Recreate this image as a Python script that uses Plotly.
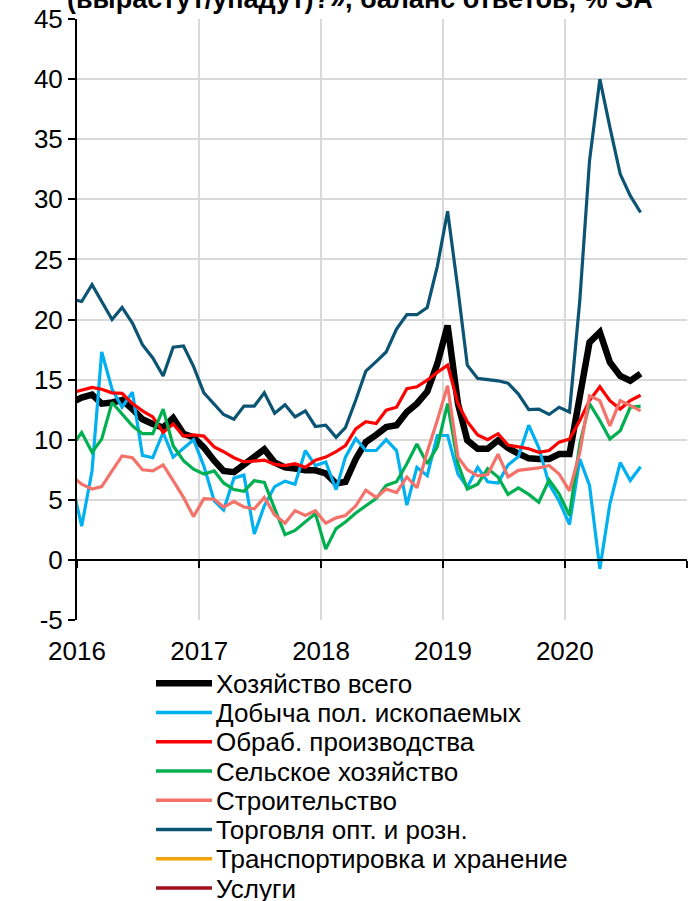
import pandas as pd
import plotly.graph_objects as go

# ---------------- data (monthly, mid-month, Dec-2015 .. Aug-2020) ----------------
months = pd.date_range("2015-12-01", periods=57, freq="MS") + pd.Timedelta(days=14)

total = [13.1,
         13.5, 13.75, 13.0, 13.1, 13.3, 12.55, 11.7, 11.3, 11.0, 11.8, 10.5, 10.2,
         9.35, 8.25, 7.4, 7.3, 7.95, 8.5, 9.2, 8.1, 7.7, 7.6, 7.45, 7.45,
         7.2, 6.35, 6.5, 8.4, 9.8, 10.4, 11.05, 11.2, 12.3, 13.0, 14.0, 16.3,
         19.5, 13.0, 9.95, 9.25, 9.25, 9.95, 9.3, 8.85, 8.45, 8.4, 8.4, 8.8,
         8.8, 13.6, 18.1, 18.95, 16.45, 15.3, 14.9, 15.5]

mining = [6.6,
          2.8, 7.4, 17.3, 14.2, 12.7, 13.95, 8.7, 8.5, 10.6, 8.55, 9.3, 10.0,
          7.8, 4.9, 4.15, 6.8, 7.05, 2.15, 4.5, 6.1, 6.55, 6.3, 9.1, 7.85,
          8.15, 5.85, 8.55, 10.1, 9.1, 9.1, 10.0, 9.1, 4.55, 7.7, 7.0, 10.35,
          10.35, 7.15, 6.05, 7.7, 6.5, 6.4, 7.9, 8.6, 11.2, 9.35, 6.3, 4.9,
          2.95, 8.4, 6.2, -0.75, 4.65, 8.1, 6.6, 7.75]

manufacturing = [13.9,
                 14.1, 14.35, 14.2, 13.9, 13.85, 13.0, 12.4, 11.9, 10.6, 11.3, 10.3, 10.4,
                 10.3, 9.4, 9.0, 8.5, 8.15, 8.2, 8.3, 7.95, 7.85, 8.0, 7.7, 8.3,
                 8.55, 9.0, 9.5, 10.9, 11.5, 11.35, 12.45, 12.7, 14.25, 14.4, 14.95, 15.6,
                 16.2, 13.0, 11.5, 10.4, 10.0, 10.5, 9.55, 9.4, 9.25, 8.95, 9.1, 9.8,
                 10.05, 11.6, 13.25, 14.4, 13.25, 12.55, 13.25, 13.7]

agriculture = [9.4,
               10.6, 8.95, 10.05, 13.1, 12.1, 11.15, 10.5, 10.5, 12.55, 9.5, 8.25, 7.55,
               7.15, 7.4, 6.4, 5.85, 5.7, 6.6, 6.45, 4.25, 2.1, 2.45, 3.2, 3.85,
               0.9, 2.6, 3.15, 3.9, 4.5, 5.1, 6.2, 6.5, 8.0, 9.65, 8.0, 9.4,
               13.0, 8.0, 5.9, 6.3, 7.6, 6.9, 5.45, 6.0, 5.45, 4.8, 6.65, 5.5,
               3.7, 9.65, 13.0, 11.6, 10.05, 10.75, 12.7, 12.8]

construction = [7.0,
                6.3, 5.9, 6.1, 7.4, 8.65, 8.5, 7.5, 7.4, 7.9, 6.6, 5.2, 3.6,
                5.1, 5.05, 4.4, 4.85, 4.4, 4.25, 5.2, 3.75, 3.05, 4.1, 3.7, 4.1,
                3.05, 3.5, 3.7, 4.5, 5.8, 5.2, 5.9, 5.6, 6.9, 6.0, 9.0, 11.6,
                14.5, 8.55, 7.5, 7.0, 7.1, 8.8, 6.9, 7.45, 7.55, 7.65, 7.85, 7.15,
                5.75, 8.95, 13.65, 13.25, 11.15, 13.25, 12.85, 12.4]

trade = [21.7,
         21.5, 22.9, 21.5, 20.0, 21.0, 19.7, 17.9, 16.8, 15.3, 17.7, 17.8, 16.1,
         13.9, 13.0, 12.1, 11.7, 12.8, 12.8, 13.9, 12.2, 12.9, 11.9, 12.4, 11.1,
         11.2, 10.2, 11.0, 13.3, 15.7, 16.5, 17.3, 19.2, 20.4, 20.4, 21.0, 24.4,
         29.0, 22.5, 16.2, 15.1, 15.0, 14.9, 14.7, 13.8, 12.5, 12.55, 12.1, 12.7,
         12.3, 21.6, 33.2, 40.0, 36.0, 32.1, 30.3, 28.9]

transport = [None] * len(months)   # no values inside the visible range
services = [None] * len(months)    # no values inside the visible range

series_names = ["Хозяйство всего", "Добыча пол. ископаемых", "Обраб. производства",
                "Сельское хозяйство", "Строительство", "Торговля опт. и розн.",
                "Транспортировка и хранение", "Услуги"]
series_values = [total, mining, manufacturing, agriculture, construction, trade,
                 transport, services]
series_colors = ["#000000", "#00B0F0", "#FF0000", "#00B050", "#F4726A", "#0C5474",
                 "#F0A30A", "#A0101E"]
series_widths = [6.5, 3.2, 3.2, 3.2, 3.2, 3.2, 3.2, 3.2]

year_ticks = ["2016-01-01", "2017-01-01", "2018-01-01", "2019-01-01", "2020-01-01", "2021-01-01"]
year_labels = ["2016", "2017", "2018", "2019", "2020", ""]

y_ticks = [-5, 0, 5, 10, 15, 20, 25, 30, 35, 40, 45]
y_labels = ["-5", "0", "5", "10", "15", "20", "25", "30", "35", "40", "45"]

title_text = "(вырастут/упадут)?», баланс ответов, % SA"

# ---------------- figure ----------------
W, H = 694, 901
PL, PR, PT, PB = 77, 687, 19, 620


def px_x(x):
    return (x - PL) / (PR - PL)


def px_y(y):
    return (PB - y) / (PB - PT)


FONT = "Arial, Liberation Sans, sans-serif"
FS = 26

fig = go.Figure()
for i, (name, vals, col, w) in enumerate(zip(series_names, series_values, series_colors, series_widths)):
    fig.add_trace(go.Scatter(
        x=months, y=vals, mode="lines", name=name,
        line=dict(color=col, width=w),
        showlegend=False, hoverinfo="skip",
        xaxis="x2" if i == len(series_names) - 1 else "x",
    ))

xrange_ = ["2016-01-01", "2021-01-01"]

fig.update_layout(
    width=W, height=H,
    margin=dict(l=PL, r=W - PR, t=PT, b=H - PB, pad=0),
    paper_bgcolor="white", plot_bgcolor="white",
    font=dict(family=FONT, size=FS, color="black"),
    xaxis=dict(
        range=xrange_, tickmode="array", tickvals=year_ticks, ticktext=year_labels,
        showgrid=True, gridcolor="#D9D9D9", gridwidth=2,
        showline=False, zeroline=False, ticks="",
        tickfont=dict(family=FONT, size=FS, color="black"),
        ticklabelstandoff=13, automargin=False,
    ),
    xaxis2=dict(
        range=xrange_, overlaying="x", anchor="free", position=0.1,
        tickmode="array", tickvals=year_ticks, showticklabels=False,
        showgrid=False, zeroline=False,
        showline=True, linecolor="black", linewidth=2,
        ticks="outside", ticklen=7, tickwidth=2, tickcolor="black",
        automargin=False,
    ),
    yaxis=dict(
        range=[-5, 45], tickmode="array", tickvals=y_ticks, ticktext=y_labels,
        showgrid=True, gridcolor="#D9D9D9", gridwidth=2,
        zeroline=False,
        showline=True, linecolor="black", linewidth=2,
        ticks="outside", ticklen=7, tickwidth=2, tickcolor="black",
        tickfont=dict(family=FONT, size=FS, color="black"),
        automargin=False,
    ),
    showlegend=False,
)

# title (partly cut off at the top, as in the reference)
fig.add_annotation(
    text="<b>" + title_text + "</b>", xref="paper", yref="paper",
    x=px_x(360), y=px_y(-1.0), xanchor="center", yanchor="middle",
    showarrow=False, font=dict(family=FONT, size=27, color="black"),
)

# manual legend
for i, (name, col, w) in enumerate(zip(series_names, series_colors, series_widths)):
    yc = 683.3 + 29.25 * i
    fig.add_shape(type="line", xref="paper", yref="paper",
                  x0=px_x(156), x1=px_x(212), y0=px_y(yc), y1=px_y(yc),
                  line=dict(color=col, width=w if i == 0 else 3.5))
    fig.add_annotation(text=name, xref="paper", yref="paper",
                       x=px_x(214), y=px_y(yc + 0.5), xanchor="left", yanchor="middle",
                       showarrow=False, font=dict(family=FONT, size=FS, color="black"))

fig.write_html("out.html",
               config={"displayModeBar": False},
               post_script="document.body.style.margin='0px';document.body.style.overflow='hidden';")
